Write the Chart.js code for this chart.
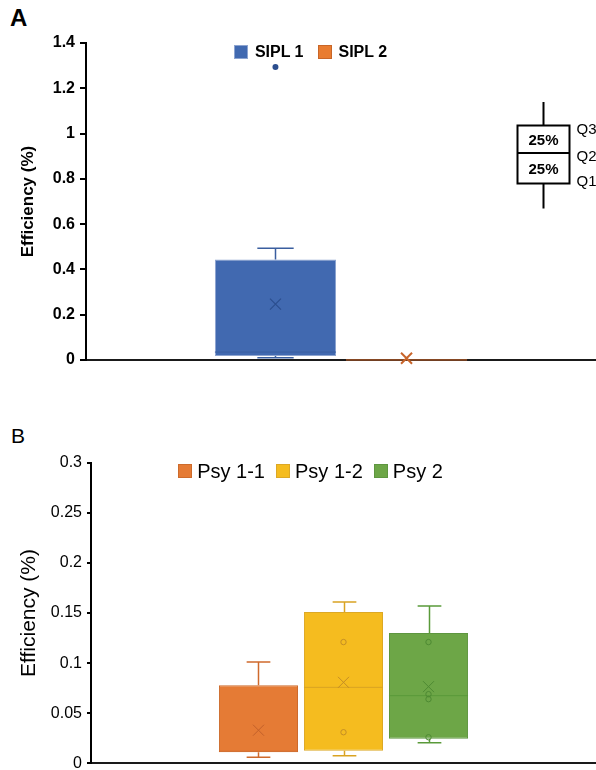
<!DOCTYPE html>
<html>
<head>
<meta charset="utf-8">
<script src="https://cdn.jsdelivr.net/npm/chart.js@4.4.0/dist/chart.umd.min.js"></script>
<style>
    html, body { margin: 0; padding: 0; background: #fff; overflow: hidden; }
    body { width: 596px; height: 770px; position: relative; font-family: "Liberation Sans", Arial, sans-serif; color: #000; }
    .panel { position: absolute; left: 0; width: 596px; height: 385px; }
    #panelA { top: 0; }
    #panelB { top: 385px; }
    .letter { position: absolute; left: 10px; }
    #letterA { top: 6px; font-size: 24px; line-height: 24px; font-weight: bold; }
    #letterB { top: 425px; left: 11px; font-size: 21px; line-height: 21px; }
    .legend { position: absolute; left: 25px; right: 0; display: flex; justify-content: center; white-space: nowrap; z-index: 2; }
    .legend .item { display: flex; align-items: center; }
    .legend .sw { display: inline-block; box-sizing: border-box; width: 14px; height: 14px; border: 1px solid; }
    #legendA { top: 45px; height: 14px; font-size: 16px; line-height: 14px; font-weight: bold; }
    #legendA .sw { margin-right: 7px; }
    #legendA .item + .item { margin-left: 14px; }
    #legendB { top: 464px; height: 14px; font-size: 20px; line-height: 14px; }
    #legendB .sw { margin-right: 5px; }
    #legendB .item + .item { margin-left: 11px; }
</style>
</head>
<body>
<div class="letter" id="letterA">A</div>
<div class="panel" id="panelA"><canvas id="chartA"></canvas></div>
<div class="legend" id="legendA"></div>
<div class="letter" id="letterB">B</div>
<div class="panel" id="panelB"><canvas id="chartB"></canvas></div>
<div class="legend" id="legendB"></div>

<script>
    // ---- Panel A data ----
    const groupsA = ['SIPL 1', 'SIPL 2'];
    const minA = [0.01, 0];
    const q1A = [0.018, 0];
    const medianA = [0.035, 0];
    const q3A = [0.444, 0.002];
    const maxA = [0.493, 0.002];
    const meanA = [0.247, 0.008];
    const pointsA = [[], []];
    const outliersA = [[1.294], []];
    const yTicksA = [0, 0.2, 0.4, 0.6, 0.8, 1, 1.2, 1.4];

    // ---- Panel B data ----
    const groupsB = ['Psy 1-1', 'Psy 1-2', 'Psy 2'];
    const minB = [0.006, 0.0076, 0.0206];
    const q1B = [0.011, 0.0126, 0.0246];
    const medianB = [0.012, 0.0758, 0.0675];
    const q3B = [0.078, 0.151, 0.130];
    const maxB = [0.101, 0.161, 0.157];
    const meanB = [0.033, 0.0808, 0.0765];
    const pointsB = [[], [0.121, 0.031], [0.121, 0.069, 0.064, 0.026]];
    const outliersB = [[], [], []];
    const yTicksB = [0, 0.05, 0.1, 0.15, 0.2, 0.25, 0.3];

    // colours
    const fillA = ['#4169B0', '#E97C30'];
    const edgeA = ['#8DA4D0', '#C86628'];
    const lineA = ['#3A5E9F', '#C8642A'];
    const markA = ['#2B4E8E', '#C8642A'];
    const fillB = ['#E57B35', '#F5BC1F', '#6DA647'];
    const edgeB = ['#CD6B2C', '#DCA826', '#5E9640'];
    const lineB = ['#CF6A2C', '#D9A323', '#5A9A3A'];
    const markB = ['#C2602A', '#C48E25', '#4E8A33'];

    function _fmtTick(v) {
        return String(+Number(v).toFixed(3));
    }

    // Whiskers, median, mean marker and points on top of the floating bars
    function _boxPlotPlugin(stats) {
        return {
            id: 'boxPlot',
            afterDatasetsDraw: function (chart) {
                var ctx = chart.ctx;
                var yScale = chart.scales.y;
                var py = function (v) { return yScale.getPixelForValue(v); };
                ctx.save();
                chart.data.datasets.forEach(function (ds, i) {
                    var bar = chart.getDatasetMeta(i).data[0];
                    var cx = Math.round(bar.x) + 0.5;
                    var half = bar.width / 2;
                    var cap = bar.width * 0.15;
                    ctx.strokeStyle = stats.lines[i];

                    ctx.lineWidth = 1.5;
                    ctx.beginPath();
                    if (stats.max[i] > stats.q3[i]) {
                        ctx.moveTo(cx, py(stats.q3[i]));
                        ctx.lineTo(cx, py(stats.max[i]));
                        ctx.moveTo(cx - cap, py(stats.max[i]));
                        ctx.lineTo(cx + cap, py(stats.max[i]));
                    }
                    if (stats.min[i] < stats.q1[i]) {
                        ctx.moveTo(cx, py(stats.q1[i]));
                        ctx.lineTo(cx, py(stats.min[i]));
                        ctx.moveTo(cx - cap, py(stats.min[i]));
                        ctx.lineTo(cx + cap, py(stats.min[i]));
                    }
                    ctx.stroke();

                    // median
                    ctx.lineWidth = 1;
                    ctx.beginPath();
                    ctx.moveTo(bar.x - half, py(stats.median[i]));
                    ctx.lineTo(bar.x + half, py(stats.median[i]));
                    ctx.stroke();

                    // mean marker
                    ctx.strokeStyle = stats.marks[i];
                    ctx.fillStyle = stats.marks[i];
                    var my = py(stats.mean[i]);
                    var m = 5.5;
                    ctx.lineWidth = stats.meanWidth[i];
                    ctx.beginPath();
                    ctx.moveTo(bar.x - m, my - m); ctx.lineTo(bar.x + m, my + m);
                    ctx.moveTo(bar.x - m, my + m); ctx.lineTo(bar.x + m, my - m);
                    ctx.stroke();

                    // inner points
                    ctx.lineWidth = 1;
                    stats.points[i].forEach(function (v) {
                        ctx.beginPath();
                        ctx.arc(bar.x, py(v), 2.7, 0, Math.PI * 2);
                        ctx.stroke();
                    });
                    // outliers
                    stats.outliers[i].forEach(function (v) {
                        ctx.beginPath();
                        ctx.arc(bar.x, py(v), 3, 0, Math.PI * 2);
                        ctx.fill();
                    });
                });
                ctx.restore();
            }
        };
    }

    // Quartile key drawn in the upper right of panel A
    const quartileKeyPlugin = {
        id: 'quartileKey',
        afterDraw: function (chart) {
            var ctx = chart.ctx;
            var a = chart.chartArea;
            var x = a.right - 52.5;
            var top = a.top + 82.5, mid = a.top + 110, bot = a.top + 140.5;
            ctx.save();
            ctx.strokeStyle = '#000';
            ctx.lineWidth = 2;
            ctx.beginPath();
            ctx.moveTo(x, a.top + 59); ctx.lineTo(x, top);
            ctx.moveTo(x, bot); ctx.lineTo(x, a.top + 165.5);
            ctx.moveTo(x - 26, mid); ctx.lineTo(x + 26, mid);
            ctx.stroke();
            ctx.strokeRect(x - 26, top, 52, bot - top);
            ctx.fillStyle = '#000';
            ctx.font = 'bold 15px "Liberation Sans", Arial, sans-serif';
            ctx.textAlign = 'center';
            ctx.textBaseline = 'middle';
            ctx.fillText('25%', x, (top + mid) / 2 + 2);
            ctx.fillText('25%', x, (mid + bot) / 2 + 2);
            ctx.font = '15px "Liberation Sans", Arial, sans-serif';
            ctx.textAlign = 'left';
            ctx.fillText('Q3', x + 33, top + 4);
            ctx.fillText('Q2', x + 33, mid + 4);
            ctx.fillText('Q1', x + 33, bot - 2);
            ctx.restore();
        }
    };

    function _buildBoxChart(canvasId, cfg) {
        var datasets = cfg.groups.map(function (name, i) {
            return {
                label: name,
                data: [[cfg.q1[i], cfg.q3[i]]],
                backgroundColor: cfg.fills[i],
                borderColor: cfg.edges[i],
                borderWidth: 1,
                borderSkipped: false,
                categoryPercentage: cfg.catPct,
                barPercentage: cfg.barPct
            };
        });
        var ticks = cfg.yTicks;
        return new Chart(document.getElementById(canvasId), {
            type: 'bar',
            data: { labels: [''], datasets: datasets },
            options: {
                responsive: true,
                maintainAspectRatio: false,
                animation: false,
                devicePixelRatio: 1,
                layout: { padding: cfg.padding },
                plugins: { legend: { display: false }, tooltip: { enabled: false } },
                scales: {
                    x: {
                        type: 'category',
                        grid: { display: false },
                        ticks: { display: false },
                        border: { display: true, color: '#1a1a1a', width: 2 },
                        afterFit: function (s) { s.height = 0; }
                    },
                    y: {
                        min: ticks[0],
                        max: ticks[ticks.length - 1],
                        afterBuildTicks: function (s) {
                            s.ticks = ticks.map(function (v) { return { value: v }; });
                        },
                        ticks: {
                            color: '#000',
                            font: cfg.tickFont,
                            padding: cfg.tickPad,
                            callback: _fmtTick
                        },
                        grid: {
                            display: true,
                            drawOnChartArea: false,
                            drawTicks: true,
                            tickLength: cfg.tickLen,
                            color: '#000',
                            lineWidth: 2
                        },
                        border: { display: true, color: '#000', width: 2 },
                        title: {
                            display: true,
                            text: 'Efficiency (%)',
                            color: '#000',
                            font: cfg.titleFont,
                            padding: { top: cfg.titlePad, bottom: 0 }
                        },
                        afterFit: function (s) {
                            s.width = cfg.axisWidth;
                            s.paddingBottom = 0;
                            s.paddingTop = 0;
                        }
                    }
                }
            },
            plugins: [_boxPlotPlugin(cfg.stats)].concat(cfg.extraPlugins || [])
        });
    }

    function _buildLegend(elId, chart) {
        var el = document.getElementById(elId);
        chart.data.datasets.forEach(function (ds) {
            var item = document.createElement('span');
            item.className = 'item';
            var sw = document.createElement('span');
            sw.className = 'sw';
            sw.style.background = ds.backgroundColor;
            sw.style.borderColor = ds.borderColor;
            item.appendChild(sw);
            item.appendChild(document.createTextNode(ds.label));
            el.appendChild(item);
        });
    }

    var chartA = _buildBoxChart('chartA', {
        groups: groupsA, q1: q1A, q3: q3A, fills: fillA, edges: edgeA,
        catPct: 0.514, barPct: 0.924,
        yTicks: yTicksA,
        padding: { top: 43, bottom: 25, left: 0, right: 0 },
        tickFont: { family: '"Liberation Sans", Arial, sans-serif', size: 16, weight: 'bold' },
        tickPad: 5, tickLen: 6,
        titleFont: { family: '"Liberation Sans", Arial, sans-serif', size: 17, weight: 'bold' },
        titlePad: 18, axisWidth: 86,
        stats: { min: minA, q1: q1A, median: medianA, q3: q3A, max: maxA, mean: meanA,
                 points: pointsA, outliers: outliersA, lines: lineA, marks: markA, meanWidth: [1.2, 2] },
        extraPlugins: [quartileKeyPlugin]
    });
    _buildLegend('legendA', chartA);

    var chartB = _buildBoxChart('chartB', {
        groups: groupsB, q1: q1B, q3: q3B, fills: fillB, edges: edgeB,
        catPct: 0.505, barPct: 0.93,
        yTicks: yTicksB,
        padding: { top: 77.7, bottom: 6.7, left: 0, right: 0 },
        tickFont: { family: '"Liberation Sans", Arial, sans-serif', size: 16 },
        tickPad: 5, tickLen: 4,
        titleFont: { family: '"Liberation Sans", Arial, sans-serif', size: 21 },
        titlePad: 17, axisWidth: 91,
        stats: { min: minB, q1: q1B, median: medianB, q3: q3B, max: maxB, mean: meanB,
                 points: pointsB, outliers: outliersB, lines: lineB, marks: markB, meanWidth: [1, 1, 1] }
    });
    _buildLegend('legendB', chartB);
</script>
</body>
</html>
